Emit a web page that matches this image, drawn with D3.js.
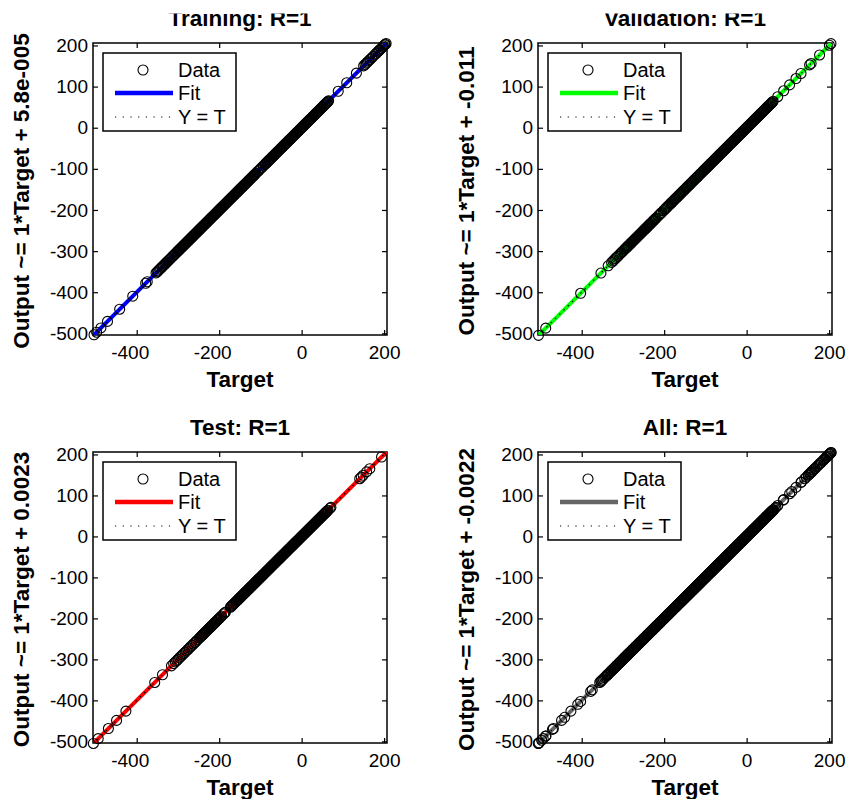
<!DOCTYPE html>
<html><head><meta charset="utf-8">
<script src="https://cdn.jsdelivr.net/npm/d3@7"></script>
<style>body{margin:0;background:#fff} text{font-family:"Liberation Sans",Arial,Helvetica,sans-serif}</style>
</head><body><svg id="c" width="858" height="799"></svg>
<script>
// ---------- data ----------
const panelTitles = ["Training: R=1", "Validation: R=1", "Test: R=1", "All: R=1"];
const fitSlopes  = [1, 1, 1, 1];
const fitOffsets = [5.8e-5, -0.011, 0.0023, -0.0022];
const fitOffsetLabels = ["5.8e-005", "-0.011", "0.0023", "-0.0022"];
const fitColors = ["#0000ff", "#00ff00", "#ff0000", "#666666"];
const legendLabels = ["Data", "Fit", "Y = T"];
const xTicks = [-400, -200, 0, 200];
const yTicks = [-500, -400, -300, -200, -100, 0, 100, 200];
const xDomain = [-506, 207];
const yDomain = [-504, 206];

const trainTargets = [
 -503.5,-497.2,-486.8,-470.9,-441.3,-409.6,-378.2,-374.5,-353.1,-350.4,-347.8,
 -344.6,-342.1,-339.3,-337.0,-334.8,-331.9,-329.5,-327.2,-324.1,-321.8,-319.6,-316.9,-314.2,-312.0,-309.7,-307.1,-304.8,-302.3,
 -300.4,-298.9,-297.1,-295.6,-294.0,-292.3,-290.8,-289.2,-287.5,-286.1,
 -284.4,-282.9,-281.2,-279.7,-278.0,-276.4,-274.9,-273.3,-271.6,-270.2,
 -268.5,-266.9,-265.3,-263.8,-262.1,-260.6,-258.9,-257.4,-255.8,-254.1,
 -252.6,-250.9,-249.4,-247.8,-246.2,-244.5,-243.0,-241.4,-239.7,-238.2,
 -236.6,-234.9,-233.4,-231.8,-230.1,-228.6,-227.0,-225.3,-223.8,-222.2,
 -220.5,-219.0,-217.4,-215.7,-214.2,-212.6,-210.9,-209.4,-207.8,-206.1,
 -204.6,-203.0,-201.3,-199.8,-198.2,-196.5,-195.0,-193.4,-191.7,-190.2,
 -188.6,-186.9,-185.4,-183.8,-182.1,-180.6,-179.0,-177.3,-175.8,-174.2,
 -172.5,-171.0,-169.4,-167.7,-166.2,-164.6,-162.9,-161.4,-159.8,-158.1,
 -156.6,-155.0,-153.3,-151.8,-150.2,-148.5,-147.0,-145.4,-143.7,-142.2,
 -140.6,-138.9,-137.4,-135.8,-134.1,-132.6,-131.0,-129.3,-127.8,-126.2,
 -124.5,-123.0,-121.4,-119.7,-118.2,-116.6,-114.9,-113.4,
 -110.8,-107.1,-103.9,-100.2,-96.8,-93.1,-89.7,
 -87.9,-86.3,-84.6,-83.1,-81.5,-79.8,-78.3,-76.7,-75.0,-73.5,
 -71.9,-70.2,-68.7,-67.1,-65.4,-63.9,-62.3,-60.6,-59.1,-57.5,
 -55.8,-54.3,-52.7,-51.0,-49.5,-47.9,-46.2,-44.7,-43.1,-41.4,
 -39.9,-38.3,-36.6,-35.1,-33.5,-31.8,-30.3,-28.7,-27.0,-25.5,
 -23.9,-22.2,-20.7,-19.1,-17.4,-15.9,-14.3,-12.6,-11.1,-9.5,
 -7.8,-6.3,-4.7,-3.0,-1.5,0.1,1.8,3.3,4.9,6.6,
 8.1,9.7,11.4,12.9,14.5,16.2,17.7,19.3,21.0,22.5,
 24.1,25.8,27.3,28.9,30.6,32.1,33.7,35.4,36.9,38.5,
 40.2,41.7,43.3,45.0,46.5,48.1,49.8,51.3,52.9,54.6,
 56.1,57.7,59.4,60.9,62.5,64.2,65.3,
 88.7,109.3,132.8,150.3,153.8,157.1,159.6,162.4,165.8,169.9,173.6,178.2,181.1,184.5,187.2,189.7,192.5,196.3,198.7,201.4,202.9,204.8
];
const validationTargets = [
 -504.8,-487.3,-402.6,-353.4,-335.8,
 -327.5,-324.2,-321.6,-318.1,-315.4,-312.9,-309.6,-306.8,-303.7,-300.9,
 -297.2,-295.3,-293.5,-291.6,-289.8,-288.1,-286.4,-284.2,-282.1,-280.4,-278.6,-276.9,-275.3,-273.2,-271.2,-269.6,-267.9,-266.0,-264.1,-262.3,-260.6,-258.7,-256.8,-255.0,-253.2,-251.4,
 -249.7,-247.9,-246.3,-244.4,-242.5,-240.8,-239.1,-237.2,-235.4,-233.6,-231.8,-230.0,-228.2,-226.5,-224.9,-222.9,-221.0,-219.3,
 -214.6,-211.3,-208.9,-206.2,
 -201.8,-199.6,-197.4,-195.2,-193.1,-191.0,-188.9,-186.5,-184.2,-182.4,-180.6,-178.5,-176.3,-174.0,-171.8,-169.6,-167.5,-165.3,-163.2,-161.3,-159.4,-157.2,-155.1,-153.0,-150.8,-148.6,
 -146.3,-144.5,-142.7,-140.5,-138.4,-136.2,-134.1,-131.8,-129.6,-127.5,-125.3,-123.2,-121.2,-119.1,-117.0,-114.8,-112.6,-110.5,-108.4,-106.2,-104.1,-102.1,-100.2,-98.9,
 -97.3,-95.7,-94.0,-92.5,-90.9,-89.2,-87.7,-86.1,-84.4,-82.9,
 -81.3,-79.6,-78.1,-76.5,-74.8,-73.3,-71.7,-70.0,-68.5,-66.9,
 -65.2,-63.7,-62.1,-60.4,-58.9,-57.3,-55.6,-54.1,-52.5,-50.8,
 -49.3,-47.7,-46.0,-44.5,-42.9,-41.2,-39.7,-38.1,-36.4,-34.9,
 -33.3,-31.6,-30.1,-28.5,-26.8,-25.3,-23.7,-22.0,-20.5,-18.9,
 -17.2,-15.7,-14.1,-12.4,-10.9,-9.3,-7.6,-6.1,-4.5,-2.8,
 -1.3,0.3,2.0,3.5,5.1,6.8,8.3,9.9,11.6,13.1,
 14.7,16.4,17.9,19.5,21.2,22.7,24.3,26.0,27.5,29.1,
 30.8,32.3,33.9,35.6,37.1,38.7,40.4,41.9,43.5,45.2,
 46.7,48.3,50.0,51.5,53.1,54.8,56.3,57.9,59.6,61.1,62.7,64.4,
 75.4,89.8,104.2,119.6,131.8,152.7,156.3,176.9,200.6,204.5
];
const testTargets = [
 -505.1,-493.4,-468.7,-448.9,-426.2,-356.3,-337.5,-315.8,-310.4,
 -306.2,-302.9,-299.7,-296.1,-292.8,-289.4,-286.0,-282.7,-279.3,-275.8,-272.6,-269.1,-265.9,-262.4,-259.0,-255.7,-252.3,
 -248.2,-245.6,-243.7,-241.8,-240.0,-238.2,-236.4,-234.7,-232.9,-231.1,-229.2,-227.4,-225.6,-223.9,-222.1,-220.3,-218.5,-216.8,-215.0,-213.2,-211.3,-209.5,-207.7,-205.9,-204.1,-202.4,-200.5,-198.6,-196.3,-194.1,
 -189.3,-186.9,-184.6,
 -172.8,-170.9,-169.2,-167.4,-165.7,-163.9,-162.1,-160.3,-158.6,-156.8,-155.0,-153.2,-151.5,-149.6,-147.8,-146.0,-144.3,-142.4,
 -140.6,-139.0,-137.4,-135.7,-134.1,-132.5,-130.9,-129.2,-127.6,-125.9,-124.3,-122.7,-121.1,-119.4,-117.8,-116.2,-114.6,-112.9,-111.3,-109.7,-108.1,-106.4,-104.8,-103.2,-101.6,-99.9,-98.3,-96.7,-95.1,-93.4,-91.8,
 -89.6,-88.0,-86.3,-84.8,-83.2,-81.5,-80.0,-78.4,-76.7,-75.2,
 -73.6,-71.9,-70.4,-68.8,-67.1,-65.6,-64.0,-62.3,-60.8,-59.2,
 -57.5,-56.0,-54.4,-52.7,-51.2,-49.6,-47.9,-46.4,-44.8,-43.1,
 -41.6,-40.0,-38.3,-36.8,-35.2,-33.5,-32.0,-30.4,-28.7,-27.2,
 -25.6,-23.9,-22.4,-20.8,-19.1,-17.6,-16.0,-14.3,-12.8,-11.2,
 -9.5,-8.0,-6.4,-4.7,-3.2,-1.6,0.1,1.6,3.2,4.9,
 6.4,8.0,9.7,11.2,12.8,14.5,16.0,17.6,19.3,20.8,
 22.4,24.1,25.6,27.2,28.9,30.4,32.0,33.7,35.2,36.8,
 38.5,40.0,41.6,43.3,44.8,46.4,48.1,49.6,51.2,52.9,
 54.4,56.0,57.7,59.2,60.8,62.5,64.0,
 68.6,70.9,140.8,144.6,149.2,157.5,165.3,193.8
];
// R = 1: network outputs coincide with targets at this resolution
const trainOutputs = trainTargets;
const validationOutputs = validationTargets;
const testOutputs = testTargets;
const allTargets = trainTargets.concat(validationTargets, testTargets);
const allOutputs = trainOutputs.concat(validationOutputs, testOutputs);

const targetSets = [trainTargets, validationTargets, testTargets, allTargets];
const outputSets = [trainOutputs, validationOutputs, testOutputs, allOutputs];

// ---------- layout ----------
const panels = [
  {x0: 93,  x1: 387, y0: 43,  y1: 335},
  {x0: 538, x1: 832, y0: 43,  y1: 335},
  {x0: 93,  x1: 387, y0: 452, y1: 743},
  {x0: 538, x1: 832, y0: 452, y1: 743}
];

const svg = d3.select("#c");
const defs = svg.append("defs");
defs.append("clipPath").attr("id", "titleclip")
  .append("rect").attr("x", 0).attr("y", 13.4).attr("width", 858).attr("height", 800);

panels.forEach((p, i) => {
  const xs = d3.scaleLinear().domain(xDomain).range([p.x0, p.x1]);
  const ys = d3.scaleLinear().domain(yDomain).range([p.y1, p.y0]);
  const g = svg.append("g");
  const cid = "clip" + i;
  defs.append("clipPath").attr("id", cid).append("rect")
    .attr("x", p.x0).attr("y", p.y0).attr("width", p.x1 - p.x0).attr("height", p.y1 - p.y0);

  // axes box and inward ticks
  g.append("rect").attr("x", p.x0).attr("y", p.y0)
    .attr("width", p.x1 - p.x0).attr("height", p.y1 - p.y0)
    .attr("fill", "#fff").attr("stroke", "#000").attr("stroke-width", 1.5);

  const styleAxis = sel => {
    sel.select(".domain").remove();
    sel.selectAll(".tick line").attr("stroke", "#000").attr("stroke-width", 1.2);
    sel.selectAll("text").attr("fill", "#000").style("font-size", "19px")
      .style("font-family", '"Liberation Sans", Arial, sans-serif');
  };
  const fmt = d => String(d);
  const bx = g.append("g").attr("transform", `translate(0,${p.y1})`)
    .call(d3.axisBottom(xs).tickValues(xTicks).tickSize(-5).tickPadding(10.5).tickFormat(fmt))
    .call(styleAxis);
  bx.selectAll("text").attr("dx", d => d < 0 ? -7 : 0);
  g.append("g").attr("transform", `translate(0,${p.y0})`)
    .call(d3.axisTop(xs).tickValues(xTicks).tickSize(-5).tickFormat(""))
    .call(styleAxis);
  g.append("g").attr("transform", `translate(${p.x0},0)`)
    .call(d3.axisLeft(ys).tickValues(yTicks).tickSize(-5).tickPadding(5).tickFormat(fmt))
    .call(styleAxis);
  g.append("g").attr("transform", `translate(${p.x1},0)`)
    .call(d3.axisRight(ys).tickValues(yTicks).tickSize(-5).tickFormat(""))
    .call(styleAxis);

  // fit line and Y = T line
  const lineData = xDomain;
  const fitLine = d3.line().x(d => xs(d)).y(d => ys(fitSlopes[i] * d + fitOffsets[i]));
  const idLine = d3.line().x(d => xs(d)).y(d => ys(d));
  const plotG = g.append("g");
  plotG.append("path").attr("d", fitLine(lineData)).attr("clip-path", `url(#${cid})`)
    .attr("fill", "none").attr("stroke", fitColors[i]).attr("stroke-width", 4);
  plotG.append("path").attr("d", idLine(lineData)).attr("clip-path", `url(#${cid})`)
    .attr("fill", "none").attr("stroke", "#000").attr("stroke-width", 1.2)
    .attr("stroke-dasharray", "1.5,4.5");

  // data circles
  const t = targetSets[i], o = outputSets[i];
  plotG.selectAll("circle").data(d3.range(t.length)).join("circle")
    .attr("cx", k => xs(t[k])).attr("cy", k => ys(o[k])).attr("r", 5)
    .attr("fill", "none").attr("stroke", "#000").attr("stroke-width", 1.1);

  // title
  g.append("text").attr("x", (p.x0 + p.x1) / 2).attr("y", p.y0 - 17)
    .attr("text-anchor", "middle").attr("clip-path", "url(#titleclip)")
    .style("font-size", "22.5px").style("font-weight", "bold").text(panelTitles[i]);
  // x label
  g.append("text").attr("x", (p.x0 + p.x1) / 2).attr("y", p.y1 + 52)
    .attr("text-anchor", "middle")
    .style("font-size", "22.5px").style("font-weight", "bold").text("Target");
  // y label
  g.append("text").attr("transform", `translate(${p.x0 - 64.5},${(p.y0 + p.y1) / 2 + 2}) rotate(-90)`)
    .attr("text-anchor", "middle")
    .style("font-size", "22.5px").style("font-weight", "bold")
    .text(`Output ~= ${fitSlopes[i]}*Target + ${fitOffsetLabels[i]}`);

  // legend
  const lg = g.append("g").attr("transform", `translate(${p.x0 + 10},${p.y0 + 10})`);
  lg.append("rect").attr("width", 133).attr("height", 78)
    .attr("fill", "#fff").attr("stroke", "#000").attr("stroke-width", 1.5);
  const rowY = [17, 40, 64];
  lg.append("circle").attr("cx", 40).attr("cy", rowY[0]).attr("r", 5)
    .attr("fill", "none").attr("stroke", "#000").attr("stroke-width", 1.1);
  lg.append("line").attr("x1", 12).attr("x2", 70).attr("y1", rowY[1]).attr("y2", rowY[1])
    .attr("stroke", fitColors[i]).attr("stroke-width", 4.5);
  lg.append("line").attr("x1", 12).attr("x2", 70).attr("y1", rowY[2]).attr("y2", rowY[2])
    .attr("stroke", "#000").attr("stroke-width", 1).attr("stroke-dasharray", "1.2,6.5");
  legendLabels.forEach((lab, k) => {
    lg.append("text").attr("x", 75).attr("y", rowY[k]).attr("dy", "0.36em")
      .style("font-size", "20px").text(lab);
  });
});
</script>
</body></html>
